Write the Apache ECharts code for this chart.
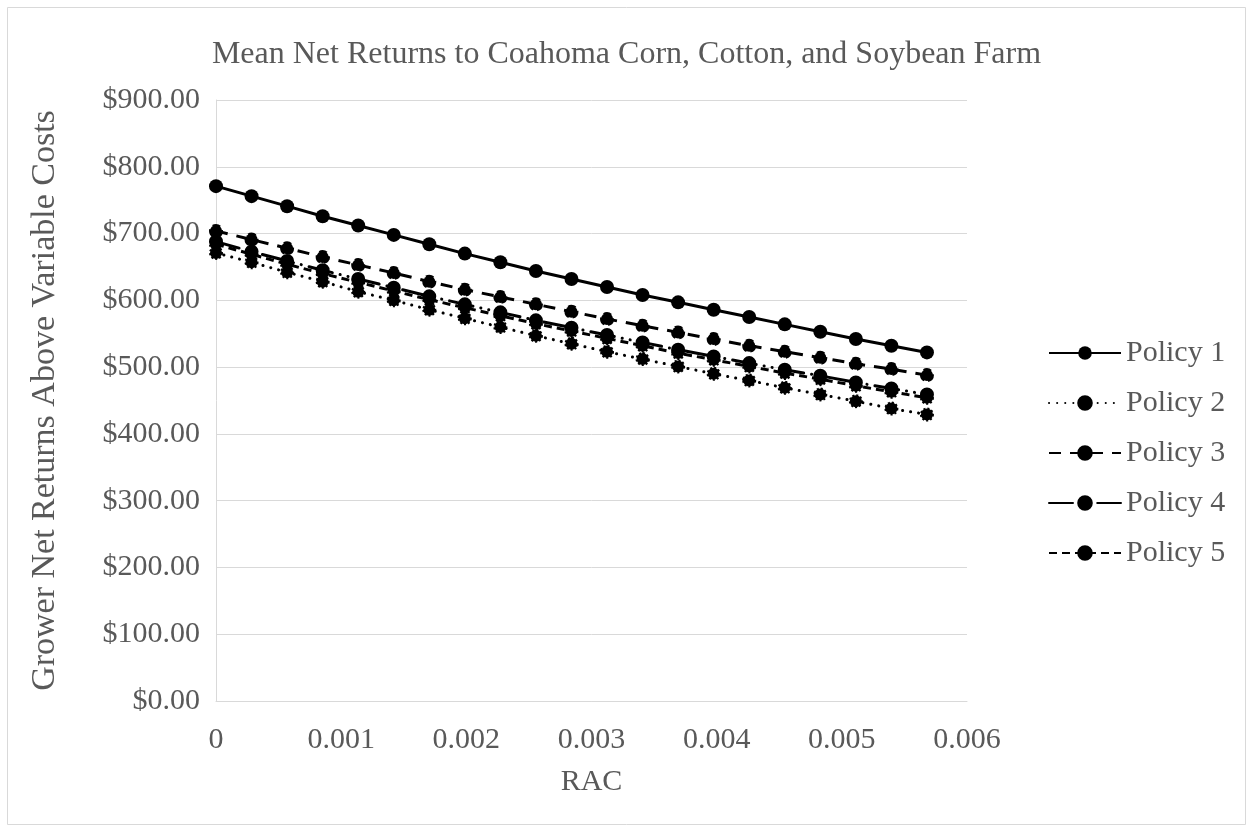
<!DOCTYPE html>
<html>
<head>
<meta charset="utf-8">
<script src="https://cdn.jsdelivr.net/npm/echarts@6/dist/echarts.min.js"></script>
<style>
  html, body { margin: 0; padding: 0; background: #ffffff; }
  #chart { width: 1253px; height: 832px; }
</style>
</head>
<body>
<div id="chart"></div>
<script>
// Risk aversion coefficients (RAC) along the horizontal axis
const rac = [0, 0.000284, 0.000568, 0.000852, 0.001136, 0.00142, 0.001704, 0.001988,
  0.002272, 0.002556, 0.00284, 0.003124, 0.003408, 0.003692, 0.003976, 0.00426,
  0.004544, 0.004828, 0.005112, 0.005396, 0.00568];

// Mean net returns above variable costs ($/acre) per policy
const policy1 = [771, 756, 741, 726, 712, 698, 684, 670, 657, 644, 632, 620, 608, 597, 586, 575, 564, 553, 542, 532, 522];
const policy2 = [671, 657, 642, 628, 613, 600, 586, 573, 560, 547, 535, 523, 512, 501, 490, 480, 469, 459, 449, 438, 429];
const policy3 = [704, 691, 678, 665, 653, 641, 628, 616, 605, 594, 583, 572, 562, 552, 542, 532, 523, 514, 505, 497, 488];
const policy4 = [688, 673, 659, 645, 632, 619, 606, 594, 582, 570, 559, 548, 537, 526, 516, 506, 496, 487, 477, 468, 459];
const policy5 = [684, 669, 654, 640, 627, 614, 601, 589, 577, 565, 554, 543, 532, 521, 511, 501, 491, 482, 472, 463, 454];

const seriesNames = ['Policy 1', 'Policy 2', 'Policy 3', 'Policy 4', 'Policy 5'];
const yTicks = [0, 100, 200, 300, 400, 500, 600, 700, 800, 900];

const FONT = '"Liberation Serif", "Times New Roman", serif';
const GREY = '#595959';
const GRID = '#d9d9d9';

const pair = (vals) => rac.map((x, i) => [x, vals[i]]);

// line dash patterns and marker outlines per policy
const styles = [
  { dash: 'solid', border: 'solid', cap: 'butt', size: 14 },
  { dash: [0.1, 8], border: 'dotted', cap: 'round', size: 12 },
  { dash: [12, 9], border: 'dashed', cap: 'butt', size: 12 },
  { dash: [24, 8, 0.1, 8, 0.1, 8], border: 'solid', cap: 'round', size: 12 },
  { dash: [8, 5], border: 'dotted', cap: 'butt', size: 12 }
];
const values = [policy1, policy2, policy3, policy4, policy5];

const chart = echarts.init(document.getElementById('chart'), null, { renderer: 'canvas' });

chart.setOption({
  animation: false,
  backgroundColor: '#ffffff',
  title: {
    text: 'Mean Net Returns to Coahoma Corn, Cotton, and Soybean Farm',
    left: 'center',
    top: 34,
    textStyle: { fontFamily: FONT, fontSize: 32, fontWeight: 'normal', color: GREY }
  },
  graphic: [{
    type: 'rect',
    shape: { x: 7.5, y: 7.5, width: 1238, height: 817 },
    style: { fill: 'none', stroke: GRID, lineWidth: 1 },
    silent: true
  }],
  legend: {
    orient: 'vertical',
    left: 1043,
    top: 333,
    itemWidth: 72,
    itemHeight: 17,
    itemGap: 20,
    data: seriesNames,
    textStyle: { fontFamily: FONT, fontSize: 30, color: GREY, lineHeight: 30 }
  },
  grid: { left: 216, right: 286, top: 100, bottom: 131, containLabel: false },
  xAxis: {
    type: 'value',
    min: 0,
    max: 0.006,
    interval: 0.001,
    name: 'RAC',
    nameLocation: 'middle',
    nameGap: 66,
    nameTextStyle: { fontFamily: FONT, fontSize: 30, color: GREY },
    axisLine: { show: true, lineStyle: { color: GRID, width: 1 } },
    axisTick: { show: false },
    splitLine: { show: false },
    axisLabel: { fontFamily: FONT, fontSize: 30, color: GREY, margin: 24 }
  },
  yAxis: {
    type: 'value',
    min: yTicks[0],
    max: yTicks[yTicks.length - 1],
    interval: 100,
    name: 'Grower Net Returns Above Variable Costs',
    nameLocation: 'middle',
    nameGap: 154,
    nameTextStyle: { fontFamily: FONT, fontSize: 34, color: GREY },
    axisLine: { show: true, lineStyle: { color: GRID, width: 1 } },
    axisTick: { show: false },
    splitLine: { show: true, lineStyle: { color: GRID, width: 1 } },
    axisLabel: {
      fontFamily: FONT, fontSize: 30, color: GREY, margin: 16,
      formatter: (v) => '$' + v.toFixed(2)
    }
  },
  series: seriesNames.map((name, k) => ({
    name,
    type: 'line',
    data: pair(values[k]),
    symbol: 'circle',
    symbolSize: styles[k].size,
    lineStyle: { color: '#000', width: 3, type: styles[k].dash, cap: styles[k].cap },
    itemStyle: {
      color: '#000',
      borderColor: '#000',
      borderWidth: k === 0 ? 0 : 2,
      borderType: styles[k].border
    }
  }))
});
</script>
</body>
</html>
